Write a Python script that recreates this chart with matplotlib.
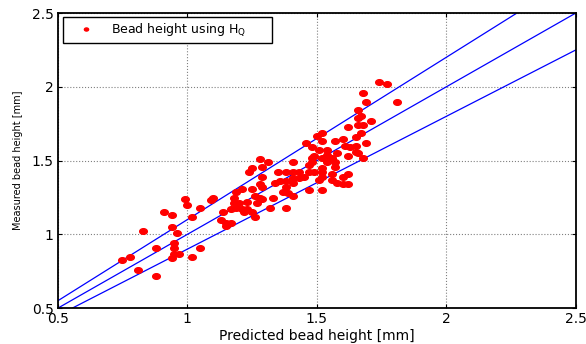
import numpy as np
import matplotlib
matplotlib.use("Agg")
from matplotlib import pyplot as plt
from matplotlib.path import Path

# predicted / measured bead height [mm]
pred = [0.75, 0.78, 0.81, 0.88, 0.83, 0.88, 0.91, 0.94, 0.94, 0.96,
        0.95, 0.95, 0.95, 0.97, 0.94, 1.02, 1.05, 0.99, 1.00, 1.02,
        1.05, 1.09, 1.10, 1.28, 1.31, 1.29, 1.25, 1.24, 1.35, 1.38,
        1.29, 1.36, 1.28, 1.29, 1.25, 1.19, 1.21, 1.34, 1.38, 1.38,
        1.37, 1.39, 1.33, 1.18, 1.26, 1.28, 1.29, 1.23, 1.20, 1.18,
        1.27, 1.32, 1.38, 1.19, 1.21, 1.23, 1.17, 1.14, 1.25, 1.22,
        1.26, 1.13, 1.17, 1.15, 1.15, 1.69, 1.68, 1.66, 1.67, 1.66,
        1.71, 1.62, 1.66, 1.68, 1.67, 1.52, 1.50, 1.52, 1.57, 1.60,
        1.65, 1.69, 1.46, 1.48, 1.51, 1.54, 1.61, 1.63, 1.65, 1.65,
        1.66, 1.58, 1.54, 1.49, 1.48, 1.52, 1.56, 1.62, 1.68, 1.41,
        1.48, 1.54, 1.57, 1.47, 1.52, 1.57, 1.41, 1.43, 1.47, 1.49,
        1.52, 1.56, 1.62, 1.45, 1.41, 1.43, 1.52, 1.60, 1.51, 1.56,
        1.41, 1.58, 1.60, 1.62, 1.47, 1.52, 1.41, 1.74, 1.77, 1.81]
meas = [0.83, 0.85, 0.76, 0.72, 1.02, 0.91, 1.15, 1.13, 1.05, 1.01,
        0.94, 0.91, 0.87, 0.87, 0.84, 0.85, 0.91, 1.24, 1.20, 1.12,
        1.18, 1.23, 1.25, 1.51, 1.49, 1.46, 1.45, 1.42, 1.42, 1.42,
        1.39, 1.36, 1.34, 1.32, 1.31, 1.29, 1.31, 1.35, 1.36, 1.32,
        1.29, 1.28, 1.25, 1.25, 1.26, 1.25, 1.24, 1.22, 1.21, 1.21,
        1.21, 1.18, 1.18, 1.18, 1.17, 1.17, 1.17, 1.15, 1.15, 1.15,
        1.12, 1.10, 1.08, 1.08, 1.06, 1.90, 1.96, 1.84, 1.80, 1.79,
        1.77, 1.73, 1.74, 1.74, 1.69, 1.69, 1.67, 1.63, 1.63, 1.65,
        1.66, 1.62, 1.62, 1.59, 1.57, 1.57, 1.60, 1.59, 1.60, 1.56,
        1.55, 1.55, 1.54, 1.53, 1.52, 1.52, 1.52, 1.53, 1.52, 1.49,
        1.49, 1.49, 1.49, 1.47, 1.45, 1.46, 1.42, 1.42, 1.42, 1.42,
        1.42, 1.41, 1.41, 1.39, 1.38, 1.38, 1.39, 1.39, 1.37, 1.37,
        1.35, 1.35, 1.34, 1.34, 1.30, 1.30, 1.26, 2.03, 2.02, 1.90]

# reference lines: measured = k * predicted
line_factors = [1.1, 1.0, 0.9]
ticks = [0.5, 1, 1.5, 2, 2.5]
tick_labels = ["0.5", "1", "1.5", "2", "2.5"]

plt.rcParams['font.family'] = ['DejaVu Sans']

fig = plt.figure(figsize=(5.86, 3.44), dpi=100)
ax = fig.add_axes([0.0985, 0.104, 0.884, 0.858])

# slightly wide ellipse marker (reference is stretched horizontally)
t = np.linspace(0, 2 * np.pi, 40)
ell = Path(np.column_stack([1.35 * np.cos(t), np.sin(t)]), closed=True)

xl = np.array([0.5, 2.5])
for k in line_factors:
    ax.plot(xl, k * xl, color="b", lw=0.9, zorder=2)

h, = ax.plot(pred, meas, ls="none", marker=ell, ms=5.5, color="r",
             mec="r", label=r"Bead height using H$_\mathrm{Q}$", zorder=3)

ax.set_xlim(0.5, 2.5)
ax.set_ylim(0.5, 2.5)
ax.set_xticks(ticks)
ax.set_xticklabels(tick_labels)
ax.set_yticks(ticks)
ax.set_yticklabels(tick_labels)
ax.grid(True, ls=":", color="0.5", lw=0.8)
ax.set_axisbelow(True)
ax.tick_params(direction="in", top=True, right=True, length=3,
               labelsize=10, pad=3)
for s in ax.spines.values():
    s.set_linewidth(1.3)

ax.set_xlabel("Predicted bead height [mm]", fontsize=10, labelpad=2)
ax.set_ylabel("Measured bead height [mm]", fontsize=7, labelpad=6)

# legend box stretched to the reference width
leg = ax.legend(handles=[h], loc="upper left", mode="expand",
                bbox_to_anchor=(0.0102, 0.9865, 0.4035, 0.0),
                borderaxespad=0, fancybox=False, framealpha=1, edgecolor="k",
                prop={'size': 9}, markerscale=0.55, handlelength=2.9,
                handletextpad=0.55, borderpad=0.35)
leg.get_frame().set_linewidth(1.0)

fig.savefig("out.png", dpi=100)
